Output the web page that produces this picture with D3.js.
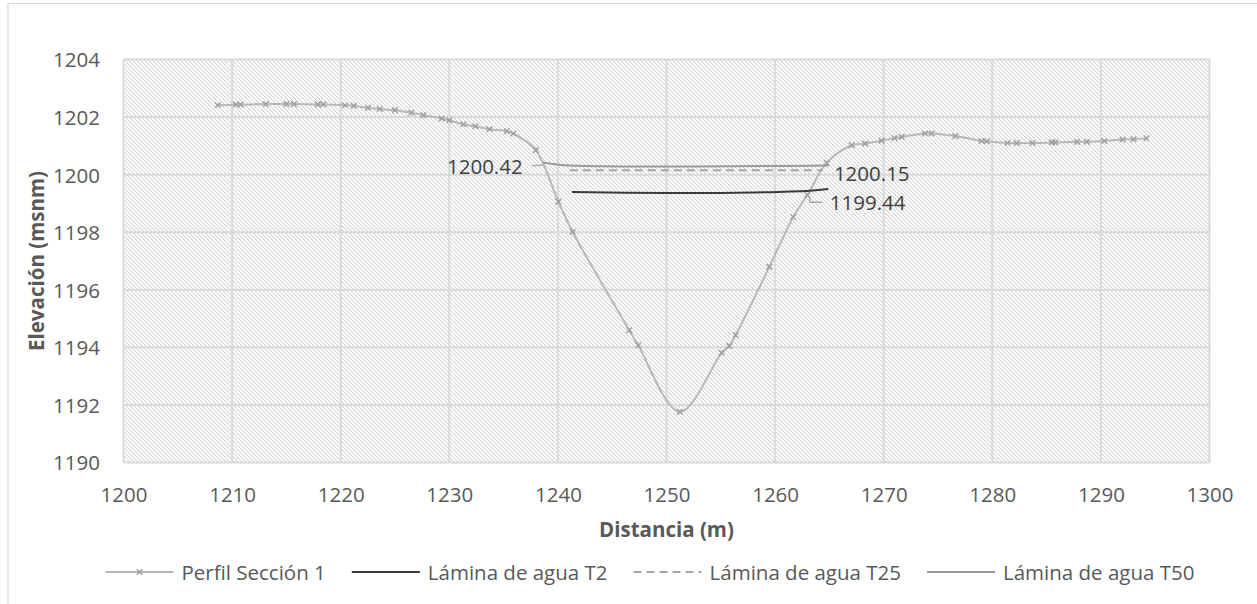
<!DOCTYPE html>
<html>
<head>
<meta charset="utf-8">
<script src="https://cdn.jsdelivr.net/npm/d3@7"></script>
<style>
  html, body { margin: 0; padding: 0; background: #fff; }
  svg { display: block; font-family: "Open Sans", "Liberation Sans", sans-serif; }
</style>
</head>
<body>
<svg id="chart" width="1257" height="604"></svg>
<script>
// Perfil del terreno, sección 1
const perfilDist = [1208.67, 1210.36, 1210.79, 1213.1, 1215.0, 1215.7, 1217.9, 1218.4, 1220.4, 1221.2,
  1222.5, 1223.6, 1225.0, 1226.5, 1227.6, 1229.3, 1230.0, 1231.3, 1232.4, 1233.7, 1235.3, 1235.9,
  1237.96, 1240.04, 1241.36, 1246.57, 1247.4, 1251.24, 1255.08, 1255.78, 1256.37, 1259.47, 1261.67,
  1262.96, 1264.75, 1267.05, 1268.3, 1269.8, 1271.0, 1271.66, 1273.8, 1274.4, 1276.6, 1279.0, 1279.5,
  1281.4, 1282.25, 1283.7, 1285.5, 1285.8, 1287.8, 1288.7, 1290.3, 1292.0, 1293.0, 1294.2];
const perfilElev = [1202.41, 1202.43, 1202.43, 1202.45, 1202.45, 1202.45, 1202.44, 1202.44, 1202.41, 1202.39,
  1202.32, 1202.28, 1202.24, 1202.15, 1202.07, 1201.95, 1201.89, 1201.75, 1201.68, 1201.58, 1201.51, 1201.43,
  1200.85, 1199.06, 1198.01, 1194.60, 1194.07, 1191.76, 1193.81, 1194.05, 1194.43, 1196.80, 1198.53,
  1199.29, 1200.41, 1201.02, 1201.08, 1201.18, 1201.27, 1201.31, 1201.43, 1201.43, 1201.34, 1201.17, 1201.16,
  1201.10, 1201.10, 1201.10, 1201.12, 1201.12, 1201.14, 1201.14, 1201.17, 1201.22, 1201.23, 1201.26];

// Láminas de agua para los periodos de retorno
const t2Dist = [1241.3, 1250, 1258, 1263.2, 1264.9];
const t2Elev = [1199.40, 1199.36, 1199.38, 1199.44, 1199.50];
const t25Dist = [1241.1, 1264.4];
const t25Elev = [1200.15, 1200.15];
const t50Dist = [1238.6, 1240.5, 1264.9];
const t50Elev = [1200.42, 1200.33, 1200.32];

const xTicks = [1200, 1210, 1220, 1230, 1240, 1250, 1260, 1270, 1280, 1290, 1300];
const yTicks = [1190, 1192, 1194, 1196, 1198, 1200, 1202, 1204];
const legendNames = ["Perfil Sección 1", "Lámina de agua T2", "Lámina de agua T25", "Lámina de agua T50"];

const svg = d3.select("#chart");
const plot = { left: 123.5, right: 1209.5, top: 59.5, bottom: 462.5 };
const x = d3.scaleLinear().domain([1200, 1300]).range([plot.left, plot.right]);
const y = d3.scaleLinear().domain([1190, 1204]).range([plot.bottom, plot.top]);

const textColor = "#595959";
const gridColor = "#d9d9d9";

// outer chart frame (only left and top edges fall inside the canvas)
svg.append("rect").attr("x", 8).attr("y", 3.5).attr("width", 1300).attr("height", 700)
  .attr("fill", "none").attr("stroke", gridColor).attr("stroke-width", 1.2);

// diagonal hatch used as the plot area fill
const defs = svg.append("defs");
const pat = defs.append("pattern").attr("id", "hatch").attr("patternUnits", "userSpaceOnUse")
  .attr("width", 4).attr("height", 4);
pat.append("rect").attr("width", 4).attr("height", 4).attr("fill", "#ffffff");
for (let i = 0; i < 4; i++) {
  pat.append("rect").attr("x", i).attr("y", i).attr("width", 1).attr("height", 1).attr("fill", "#d2d2d2");
  pat.append("rect").attr("x", (i + 1) % 4).attr("y", i).attr("width", 1).attr("height", 1).attr("fill", "#f0f0f0");
}

svg.append("rect").attr("x", plot.left).attr("y", plot.top)
  .attr("width", plot.right - plot.left).attr("height", plot.bottom - plot.top)
  .attr("fill", "url(#hatch)").attr("shape-rendering", "crispEdges");

// gridlines
const grid = svg.append("g").attr("stroke", gridColor).attr("stroke-width", 2);
grid.selectAll("line.v").data(xTicks).join("line").attr("class", "v")
  .attr("x1", d => x(d)).attr("x2", d => x(d)).attr("y1", plot.top).attr("y2", plot.bottom);
grid.selectAll("line.h").data(yTicks).join("line").attr("class", "h")
  .attr("x1", plot.left).attr("x2", plot.right).attr("y1", d => y(d)).attr("y2", d => y(d));

// axes (labels only; domain and ticks hidden)
const xAxis = svg.append("g").attr("transform", `translate(0,${plot.bottom})`)
  .call(d3.axisBottom(x).tickValues(xTicks).tickSize(0).tickPadding(0).tickFormat(d3.format("d")));
xAxis.select(".domain").remove();
xAxis.selectAll("text").attr("y", 39.5).attr("dy", null)
  .attr("fill", textColor).style("font-size", "20.5px").style("font-family", "'Open Sans'");

const yAxis = svg.append("g").attr("transform", `translate(${plot.left},0)`)
  .call(d3.axisLeft(y).tickValues(yTicks).tickSize(0).tickPadding(23.5).tickFormat(d3.format("d")));
yAxis.select(".domain").remove();
yAxis.selectAll("text").attr("dy", "0.36em")
  .attr("fill", textColor).style("font-size", "20.5px").style("font-family", "'Open Sans'");

// axis titles
svg.append("text").attr("x", (plot.left + plot.right) / 2).attr("y", 537)
  .attr("text-anchor", "middle").attr("fill", textColor)
  .style("font-size", "20.5px").style("font-weight", "bold").text("Distancia (m)");
svg.append("text").attr("transform", `translate(44,${(plot.top + plot.bottom) / 2}) rotate(-90)`)
  .attr("text-anchor", "middle").attr("fill", textColor)
  .style("font-size", "20.5px").style("font-weight", "bold").text("Elevación (msnm)");

// series
const zip = (xs, ys) => xs.map((d, i) => [d, ys[i]]);
const line = d3.line().x(d => x(d[0])).y(d => y(d[1])).curve(d3.curveCatmullRom.alpha(0.5));

const perfil = zip(perfilDist, perfilElev);
const t2 = zip(t2Dist, t2Elev);
const t25 = zip(t25Dist, t25Elev);
const t50 = zip(t50Dist, t50Elev);

const styles = [
  { color: "#b8b8b8", dash: null, width: 2 },
  { color: "#3a3a3a", dash: null, width: 2 },
  { color: "#a6a6a6", dash: "8,5", width: 2 },
  { color: "#9a9a9a", dash: null, width: 2 }
];

svg.append("path").datum(perfil).attr("d", line).attr("fill", "none")
  .attr("stroke", styles[0].color).attr("stroke-width", styles[0].width);

function xMark(g, cx, cy, r) {
  g.append("path").attr("d", `M${cx - r},${cy - r}L${cx + r},${cy + r}M${cx - r},${cy + r}L${cx + r},${cy - r}`)
    .attr("stroke", "#a0a0a0").attr("stroke-width", 1.5).attr("fill", "none");
}
const markers = svg.append("g");
perfil.forEach(d => xMark(markers, x(d[0]), y(d[1]), 2.8));

[[t25, styles[2]], [t50, styles[3]], [t2, styles[1]]].forEach(([data, s]) => {
  svg.append("path").datum(data).attr("d", line).attr("fill", "none")
    .attr("stroke", s.color).attr("stroke-width", s.width)
    .attr("stroke-dasharray", s.dash);
});

// data labels with leader lines
const labelColor = "#404040";
const leader = "#a6a6a6";
const p50 = t50[0];
svg.append("line").attr("x1", x(p50[0]) - 11).attr("x2", x(p50[0]))
  .attr("y1", y(p50[1]) + 3).attr("y2", y(p50[1]) + 2.5).attr("stroke", leader).attr("stroke-width", 1.3);
svg.append("text").attr("x", x(p50[0]) - 20).attr("y", y(p50[1]) + 11.5).attr("text-anchor", "end")
  .attr("fill", labelColor).style("font-size", "20.5px").text(d3.format(".2f")(p50[1]));

const p25 = t25[t25.length - 1];
svg.append("text").attr("x", x(p25[0]) + 11).attr("y", y(p25[1]) + 10.5)
  .attr("fill", labelColor).style("font-size", "20.5px").text(d3.format(".2f")(p25[1]));

const p2 = t2[3];
svg.append("path").attr("d", `M${x(p2[0])},${y(p2[1]) + 6}V${y(p2[1]) + 11.5}H${x(p2[0]) + 12}`)
  .attr("fill", "none").attr("stroke", leader).attr("stroke-width", 1.3);
svg.append("text").attr("x", x(p2[0]) + 20).attr("y", y(p2[1]) + 19.5)
  .attr("fill", labelColor).style("font-size", "20.5px").text(d3.format(".2f")(p2[1]));

// legend
const legend = svg.append("g");
const legY = 572;
let cursor = 0;
legendNames.forEach((name, i) => {
  const g = legend.append("g");
  const s = styles[i];
  g.append("line").attr("x1", cursor).attr("x2", cursor + 68).attr("y1", legY).attr("y2", legY)
    .attr("stroke", s.color).attr("stroke-width", 2).attr("stroke-dasharray", s.dash);
  if (i === 0) xMark(g, cursor + 34, legY, 2.8);
  const t = g.append("text").attr("x", cursor + 76).attr("y", legY + 8)
    .attr("fill", textColor).style("font-size", "20.5px").text(name);
  const w = t.node().getComputedTextLength();
  cursor += 76 + w + 26;
});
const total = cursor - 26;
legend.attr("transform", `translate(${650 - total / 2},0)`);
</script>
</body>
</html>
